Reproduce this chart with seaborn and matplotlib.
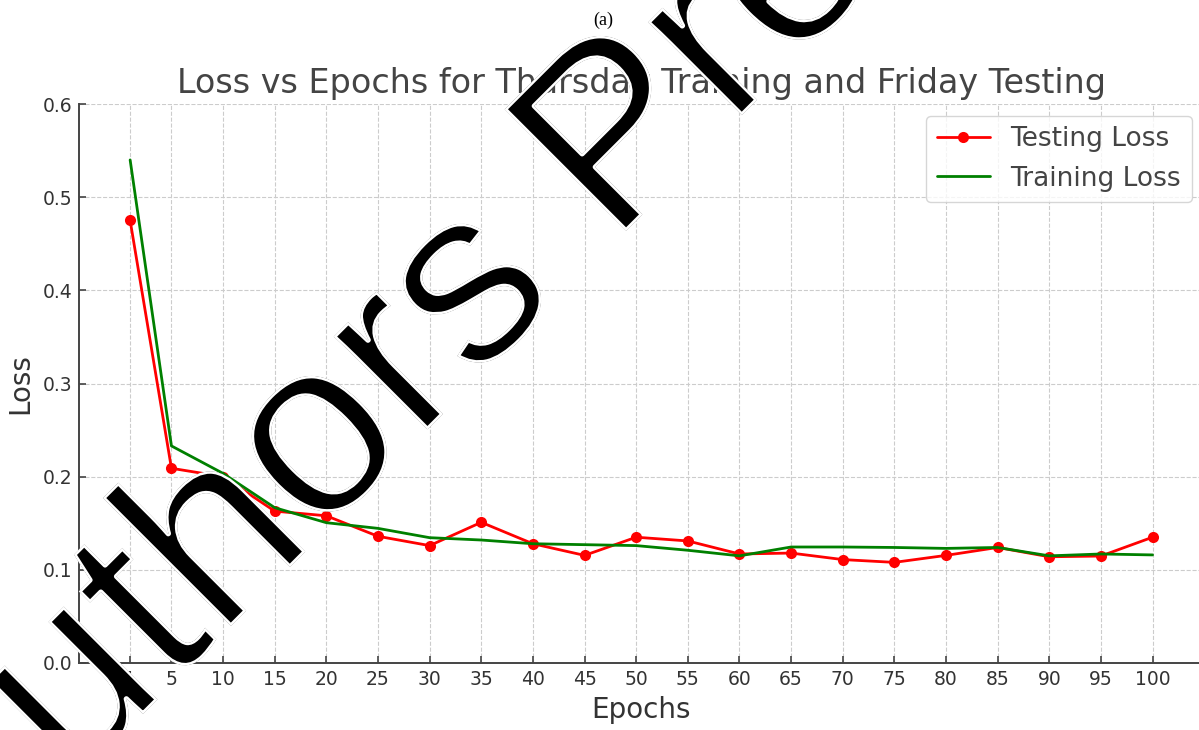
import matplotlib
matplotlib.use("Agg")
import matplotlib.pyplot as plt
import matplotlib.patheffects as pe
from matplotlib.font_manager import FontProperties
from matplotlib.textpath import TextPath
from matplotlib.transforms import Affine2D
import seaborn as sns
import pandas as pd

# Epochs at which losses were recorded
epochs = [1, 5, 10, 15, 20, 25, 30, 35, 40, 45, 50,
          55, 60, 65, 70, 75, 80, 85, 90, 95, 100]

# Loss on the Friday test set
testing_loss = [0.475, 0.209, 0.200, 0.163, 0.158, 0.136, 0.126, 0.151, 0.128, 0.1155, 0.135,
                0.131, 0.117, 0.118, 0.111, 0.108, 0.1155, 0.124, 0.114, 0.1148, 0.135]

# Loss on the Thursday training set
training_loss = [0.540, 0.233, 0.2035, 0.1667, 0.1506, 0.1445, 0.1345, 0.132, 0.128, 0.127, 0.126,
                 0.121, 0.115, 0.1245, 0.1245, 0.124, 0.123, 0.124, 0.115, 0.117, 0.116]

y_ticks = [0.0, 0.1, 0.2, 0.3, 0.4, 0.5, 0.6]

title = "Loss vs Epochs for Thursday Training and Friday Testing"
panel_label = "(a)"
watermark = "Authors Preprint"

TEXT = "#333333"
DPI = 100

sns.set_theme(style="whitegrid")
plt.rcParams["font.family"] = ["DejaVu Sans"]

df = pd.DataFrame({"Epochs": epochs, "Testing Loss": testing_loss, "Training Loss": training_loss})

fig = plt.figure(figsize=(11.99, 7.30), dpi=DPI)
ax = fig.add_axes([0.0659, 0.0918, 0.938, 0.7657])

sns.lineplot(data=df, x="Epochs", y="Testing Loss", ax=ax, color="red", marker="o",
             markersize=8, markeredgewidth=0, linewidth=2, label="Testing Loss")
sns.lineplot(data=df, x="Epochs", y="Training Loss", ax=ax, color="green",
             linewidth=2, label="Training Loss")

ax.set_ylim(0, 0.6)
ax.set_xticks(epochs)
ax.set_yticks(y_ticks)
ax.set_yticklabels([f"{v:.1f}" for v in y_ticks])

ax.grid(True, linestyle="--", color="#cccccc", linewidth=0.8)
for side in ["top", "right"]:
    ax.spines[side].set_visible(False)
for side in ["left", "bottom"]:
    ax.spines[side].set_color("#444444")
    ax.spines[side].set_linewidth(1.4)

ax.tick_params(axis="both", which="major", labelsize=13.5, colors=TEXT, length=5,
               width=1.2, direction="in", pad=5, bottom=True, left=True)
ax.tick_params(axis="both", which="major", color="#444444")
ax.set_xlabel("Epochs", fontsize=20, color=TEXT, labelpad=5)
ax.set_ylabel("Loss", fontsize=20, color=TEXT, labelpad=6)
ax.set_title(title, fontsize=24, color="#444444", pad=8)

leg = ax.legend(loc="upper right", fontsize=19, frameon=True, borderaxespad=0.45)
leg.get_frame().set_edgecolor("#cccccc")
for t in leg.get_texts():
    t.set_color("#444444")

fig.text(0.503, 0.972, panel_label, ha="center", va="center",
         fontsize=13, family="Liberation Serif", color="black")

# Diagonal watermark; a white inner stroke clipped to the glyph outlines
# gives it a lighter weight than the regular face.
wm_x, wm_y, wm_angle, wm_size = -0.039, -0.238, 45, 180
wm_font = FontProperties(family="Liberation Sans", size=wm_size)
wm = fig.text(wm_x, wm_y, watermark, rotation=wm_angle, rotation_mode="anchor",
              ha="left", va="baseline", fontproperties=wm_font,
              color="black", zorder=10)
wm.set_path_effects([pe.Stroke(linewidth=3.6, foreground="white")])
glyphs = TextPath((0, 0), watermark, prop=wm_font)
glyph_tf = (Affine2D().scale(DPI / 72).rotate_deg(wm_angle)
            .translate(wm_x * fig.bbox.width, wm_y * fig.bbox.height))
wm.set_clip_path(glyphs, glyph_tf)
wm.set_clip_on(True)

fig.savefig("out.png", dpi=DPI)
